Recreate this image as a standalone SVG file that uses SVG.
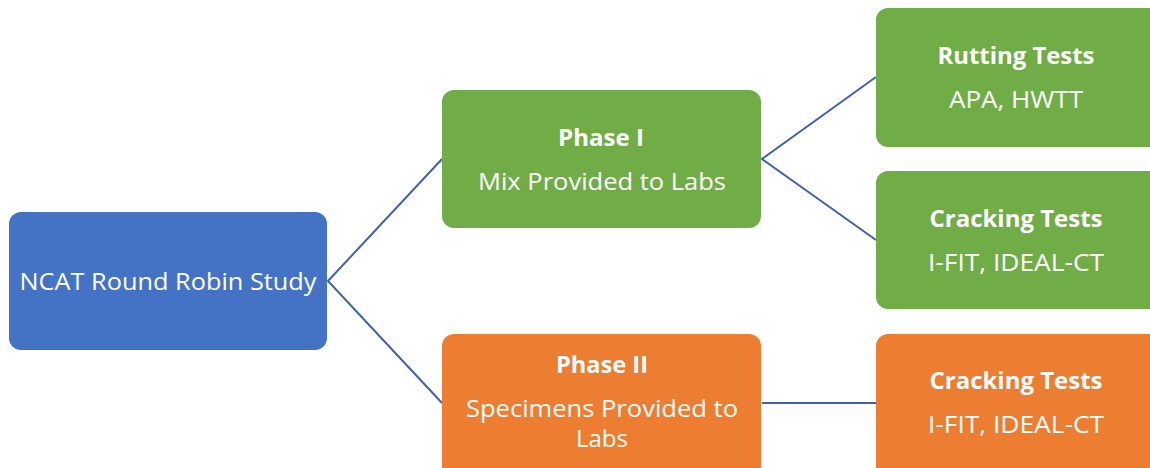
<svg xmlns="http://www.w3.org/2000/svg" width="1150" height="468" viewBox="0 0 1150 468">
<style>
.t{font-family:"Open Sans","Liberation Sans",sans-serif;font-size:24px;fill:#fff;text-anchor:middle}
.b{font-weight:bold}
.c{fill:none;stroke:#3D62B0;stroke-width:2}
</style>
<rect width="1150" height="468" fill="#fff"/>
<g id="connectors">
<polyline class="c" points="442,159 328,281 442,403"/>
<polyline class="c" points="876,77 762,159 876,240"/>
<line class="c" x1="762" y1="403" x2="876" y2="403"/>
</g>
<g id="root">
<rect x="9" y="212" width="318" height="138" rx="12" fill="#4472C4"/>
<text class="t" x="168" y="290" textLength="297" lengthAdjust="spacingAndGlyphs">NCAT Round Robin Study</text>
</g>
<g id="phase1">
<rect x="442" y="90" width="319" height="138" rx="12" fill="#70AD47"/>
<text class="t b" x="601" y="146" textLength="86" lengthAdjust="spacingAndGlyphs">Phase I</text>
<text class="t" x="602" y="190" textLength="248" lengthAdjust="spacingAndGlyphs">Mix Provided to Labs</text>
</g>
<g id="rutting">
<rect x="876" y="8" width="290" height="139" rx="12" fill="#70AD47"/>
<text class="t b" x="1016" y="64" textLength="157" lengthAdjust="spacingAndGlyphs">Rutting Tests</text>
<text class="t" x="1016" y="108" textLength="134" lengthAdjust="spacingAndGlyphs">APA, HWTT</text>
</g>
<g id="cracking1">
<rect x="876" y="171" width="290" height="138" rx="12" fill="#70AD47"/>
<text class="t b" x="1016" y="227" textLength="173" lengthAdjust="spacingAndGlyphs">Cracking Tests</text>
<text class="t" x="1016" y="271" textLength="176" lengthAdjust="spacingAndGlyphs">I-FIT, IDEAL-CT</text>
</g>
<g id="phase2">
<rect x="442" y="334" width="319" height="150" rx="12" fill="#ED7D31"/>
<text class="t b" x="602" y="373" textLength="92" lengthAdjust="spacingAndGlyphs">Phase II</text>
<text class="t" x="602" y="417" textLength="272" lengthAdjust="spacingAndGlyphs">Specimens Provided to</text>
<text class="t" x="602" y="447" textLength="52" lengthAdjust="spacingAndGlyphs">Labs</text>
</g>
<g id="cracking2">
<rect x="876" y="334" width="290" height="150" rx="12" fill="#ED7D31"/>
<text class="t b" x="1016" y="389" textLength="173" lengthAdjust="spacingAndGlyphs">Cracking Tests</text>
<text class="t" x="1016" y="433" textLength="176" lengthAdjust="spacingAndGlyphs">I-FIT, IDEAL-CT</text>
</g>
</svg>
